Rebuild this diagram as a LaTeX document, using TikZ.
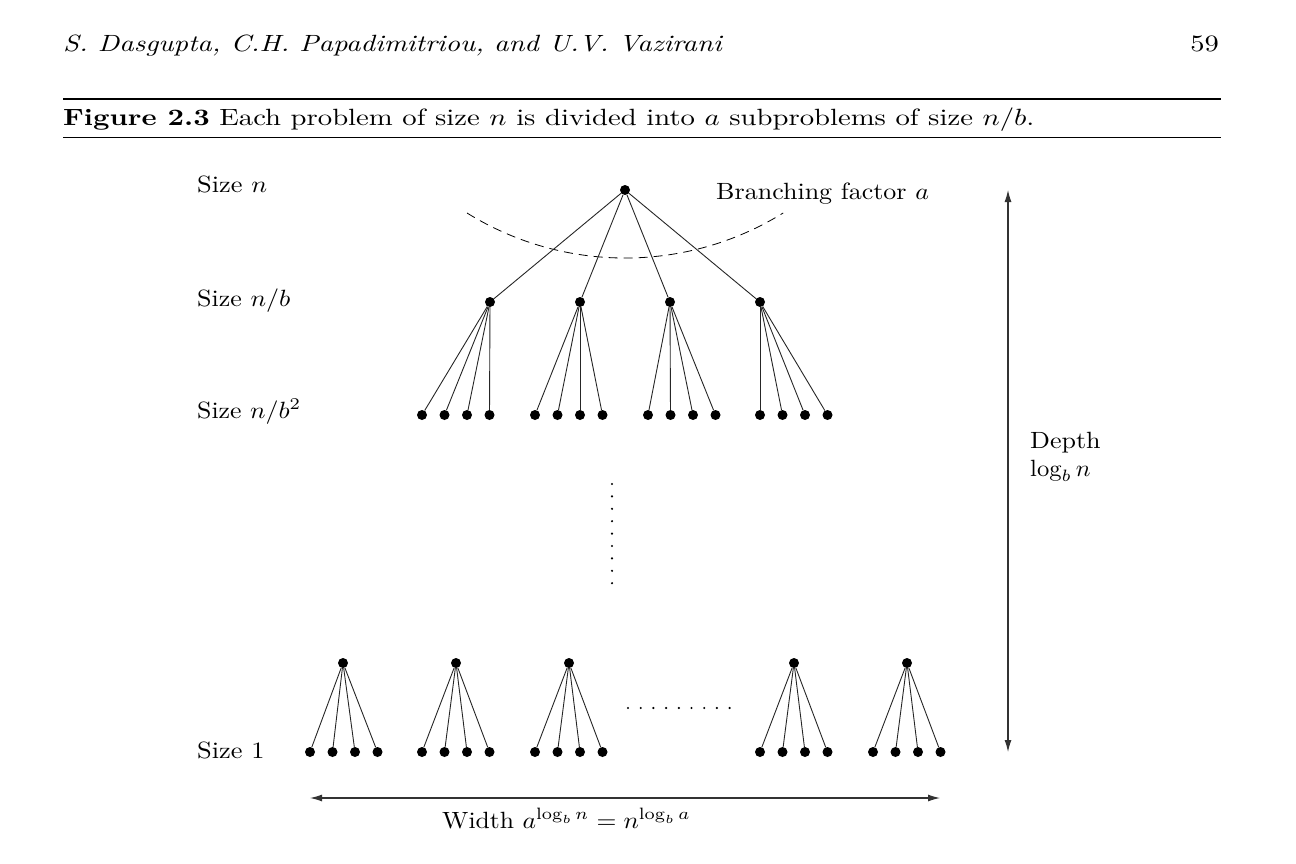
\documentclass[tikz,border=0pt]{standalone}
\usetikzlibrary{arrows.meta}
\newcommand{\bigtxt}[2][2.6]{\scalebox{#1}[2.35]{#2}}
\begin{document}
\begin{tikzpicture}[x=1pt,y=-1pt,
  dot/.style={circle,fill=black,inner sep=0pt,minimum size=10pt},
  edge/.style={line width=0.9pt, draw=black!85},
  lbl/.style={anchor=base west, inner sep=0pt},
  dimline/.style={line width=1.1pt, draw=black!80, {Latex[length=12pt,width=7pt]}-{Latex[length=12pt,width=7pt]}},
  smalldot/.style={circle,fill=black,inner sep=0pt,minimum size=2.4pt}]
\useasboundingbox (0,0) rectangle (1296,864);
% header
\node[lbl] (hdr) at (63,52) {\bigtxt[2.83]{\itshape S. Dasgupta, C.H. Papadimitriou, and U.V. Vazirani}};
\node[lbl, anchor=base east] (pg) at (1219,52) {\bigtxt[2.85]{59}};
\coordinate (r1a) at (63,99); \coordinate (r1b) at (1221,99);
\coordinate (r2a) at (63,137); \coordinate (r2b) at (1221,137);
\draw[line width=1.8pt] (r1a) -- (r1b);
\draw[line width=0.9pt] (r2a) -- (r2b);
\node[lbl] (cap) at (63,126) {\bigtxt[2.87]{\textbf{Figure 2.3} Each problem of size $n$ is divided into $a$ subproblems of size $n/b$.}};
% row labels
\node[lbl] (s0) at (197,193) {\bigtxt[2.64]{Size $n$}};
\node[lbl] (s1) at (197,306) {\bigtxt[2.6]{Size $n/b$}};
\node[lbl] (s2) at (197,418) {\bigtxt[2.58]{Size $n/b^2$}};
\node[lbl] (s3) at (197,758) {\bigtxt[2.64]{Size 1}};
\node[lbl] (bf) at (716,200) {\bigtxt[2.6]{Branching factor $a$}};
% root
\node[dot] (r) at (625,190) {};
% dashed arc
\coordinate (arcs) at (467,213);
\draw[dashed, dash pattern=on 9pt off 6pt, line width=0.8pt] (arcs) arc[start angle=121.8, end angle=58.2, radius=300];
% level 1 and 2
\foreach \i/\x/\c in {1/490/422, 2/580/535, 3/670/648, 4/760/760} {
  \node[dot] (a\i) at (\x,302) {};
  \draw[edge] (r) -- (a\i);
  \foreach \j in {0,1,2,3} {
    \node[dot] (a\i\j) at ({\c+22.5*\j},415) {};
    \draw[edge] (a\i) -- (a\i\j);
  }
}
% vertical dots
\foreach \k in {0,...,8} \node[smalldot] (vd\k) at (612,{484+12.4*\k}) {};
% bottom level
\foreach \i/\x/\c in {1/343/310, 2/456/422, 3/569/535, 4/794/760, 5/907/873} {
  \node[dot] (p\i) at (\x,663) {};
  \foreach \j in {0,1,2,3} {
    \node[dot] (p\i\j) at ({\c+22.5*\j},752) {};
    \draw[edge] (p\i) -- (p\i\j);
  }
}
% horizontal dots
\foreach \k in {0,...,8} \node[smalldot] (hd\k) at ({628+12.7*\k},708) {};
% width arrow
\coordinate (wl) at (310,798); \coordinate (wr) at (940,798);
\draw[dimline] (wl) -- (wr);
\node[lbl] (wlab) at (442,828) {\bigtxt[2.56]{Width $a^{\log_b n} = n^{\log_b a}$}};
% depth arrow
\coordinate (dt) at (1008,190); \coordinate (db) at (1008,752);
\draw[dimline] (dt) -- (db);
\node[lbl] (dlab) at (1030,448) {\bigtxt[2.6]{Depth}};
\node[lbl] (dlab2) at (1030,476) {\bigtxt[2.46]{$\log_b n$}};
\end{tikzpicture}
\end{document}
